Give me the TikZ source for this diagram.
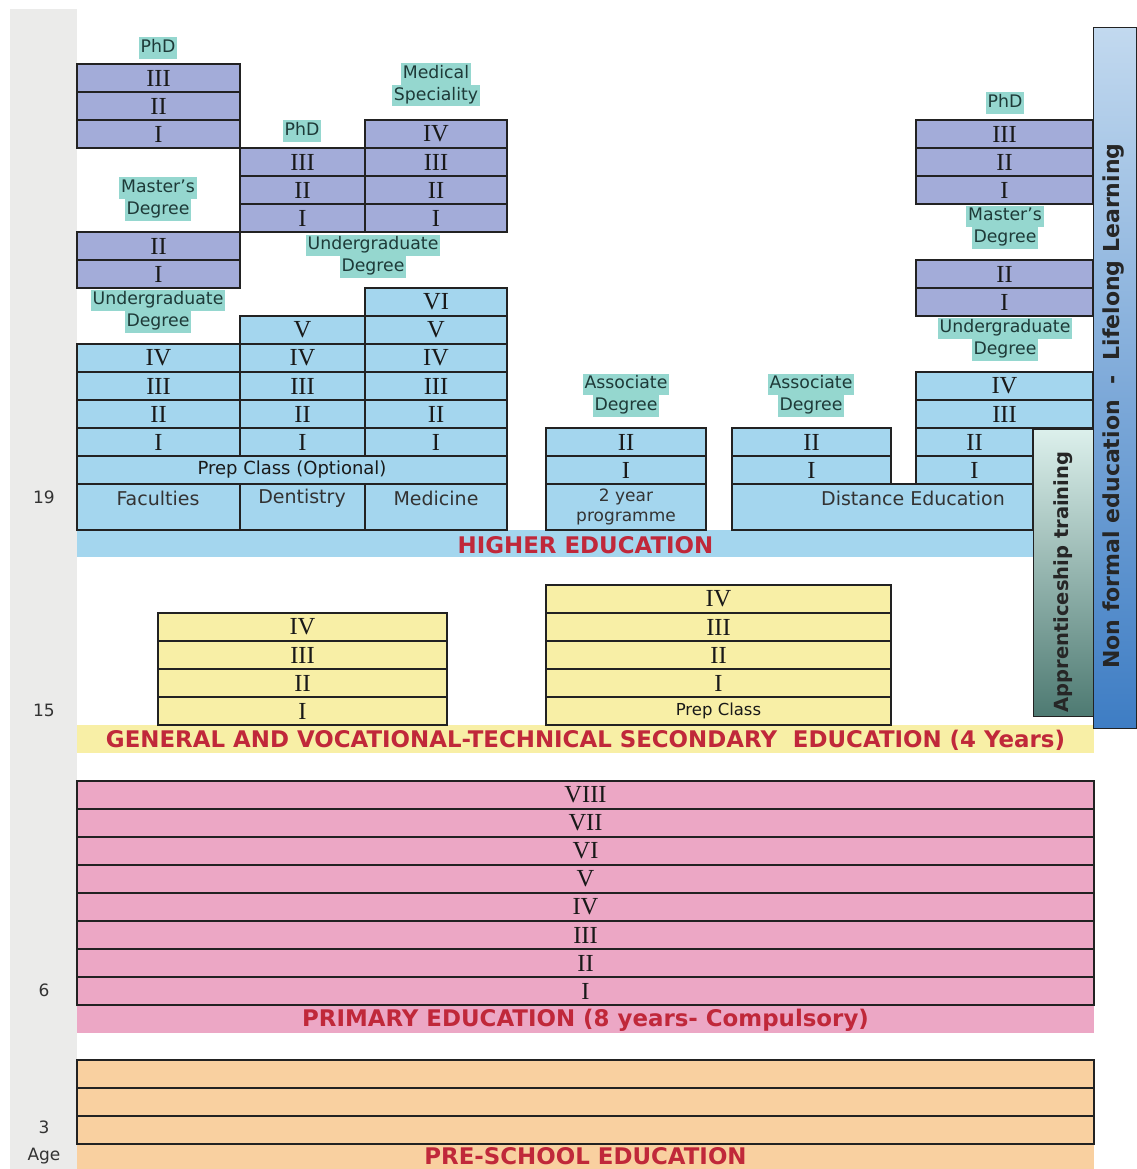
\documentclass[tikz,border=0pt]{standalone}
\usepackage{fontspec}
\setmainfont{Liberation Serif}
\newfontfamily\dvs{DejaVu Sans}
\definecolor{grad}{HTML}{A3ACD9}
\definecolor{ugrad}{HTML}{A4D6EE}
\definecolor{lab}{HTML}{95D7CF}
\definecolor{labt}{HTML}{1E3A38}
\definecolor{sec}{HTML}{F8EFA6}
\definecolor{prim}{HTML}{ECA7C5}
\definecolor{pre}{HTML}{F9D0A0}
\definecolor{redt}{HTML}{C0283A}
\definecolor{agebg}{HTML}{EBEBEA}
\definecolor{linec}{HTML}{222222}
\definecolor{nftop}{HTML}{C2D9EF}
\definecolor{nfbot}{HTML}{3E7DC4}
\definecolor{aptop}{HTML}{DCF0EC}
\definecolor{apbot}{HTML}{4E7A72}
\newcommand\hl[1]{{\setlength\fboxsep{0pt}\colorbox{lab}{\strut\hspace{2pt}#1\hspace{2pt}}}}
\tikzset{
 cell/.style={draw=linec, line width=1.3pt, inner sep=0pt, outer sep=0pt, anchor=north west,
   font=\fontsize{24.5}{24.5}\selectfont, text=black!90},
 band/.style={inner sep=0pt, outer sep=0pt, anchor=north west},
 lbl/.style={inner sep=0pt, align=center, font=\dvs\fontsize{17.3}{21.5}\selectfont, text=labt},
 sanstxt/.style={inner sep=0pt, font=\dvs\fontsize{19}{21}\selectfont, text=black!80},
 smalltxt/.style={inner sep=0pt, align=center, font=\dvs\fontsize{17}{19.5}\selectfont, text=black!80},
 bandtxt/.style={inner sep=0pt, font=\dvs\bfseries\fontsize{22.9}{22.9}\selectfont, text=redt},
 agetxt/.style={inner sep=0pt, font=\dvs\fontsize{17}{17}\selectfont, text=black!80},
 vtxt/.style={inner sep=0pt, rotate=90, font=\dvs\bfseries\fontsize{22}{22}\selectfont, text=black!85},
}
\newcommand\cell[7]{\node[cell, fill=#6, minimum width=#4pt, minimum height=#5pt] (#1) at (#2,#3) {#7};}
\begin{document}
\begin{tikzpicture}[x=1pt,y=-1pt]
\useasboundingbox (0,0) rectangle (1136,1169);
\fill[white] (0,0) rectangle (1136,1169);
% age column
\node[band, fill=agebg, minimum width=67pt, minimum height=1160pt] (agecol) at (10,9) {};
\node[agetxt] (a19) at (44,497) {19};
\node[agetxt] (a15) at (44,710) {15};
\node[agetxt] (a6) at (44,990) {6};
\node[agetxt] (a3) at (44,1127) {3};
\node[agetxt] (aage) at (44,1156) {Age};

% bands
\node[band, fill=ugrad, minimum width=956pt, minimum height=27pt] (heband) at (77,530) {};
\node[band, fill=sec, minimum width=1017pt, minimum height=28pt] (seband) at (77,725) {};
\node[band, fill=prim, minimum width=1017pt, minimum height=28pt] (prband) at (77,1005) {};
\node[band, fill=pre, minimum width=1017pt, minimum height=25pt] (psband) at (77,1144) {};

% ---- faculties column
\cell{fL3}{77}{64}{163}{28}{grad}{III}
\cell{fL2}{77}{92}{163}{28}{grad}{II}
\cell{fL1}{77}{120}{163}{28}{grad}{I}
\cell{mL2}{77}{232}{163}{28}{grad}{II}
\cell{mL1}{77}{260}{163}{28}{grad}{I}
\cell{uL4}{77}{344}{163}{28}{ugrad}{IV}
\cell{uL3}{77}{372}{163}{28}{ugrad}{III}
\cell{uL2}{77}{400}{163}{28}{ugrad}{II}
\cell{uL1}{77}{428}{163}{28}{ugrad}{I}
% ---- dentistry column
\cell{dP3}{240}{148}{125}{28}{grad}{III}
\cell{dP2}{240}{176}{125}{28}{grad}{II}
\cell{dP1}{240}{204}{125}{28}{grad}{I}
\cell{dU5}{240}{316}{125}{28}{ugrad}{V}
\cell{dU4}{240}{344}{125}{28}{ugrad}{IV}
\cell{dU3}{240}{372}{125}{28}{ugrad}{III}
\cell{dU2}{240}{400}{125}{28}{ugrad}{II}
\cell{dU1}{240}{428}{125}{28}{ugrad}{I}
% ---- medicine column
\cell{mS4}{365}{120}{142}{28}{grad}{IV}
\cell{mS3}{365}{148}{142}{28}{grad}{III}
\cell{mS2}{365}{176}{142}{28}{grad}{II}
\cell{mS1}{365}{204}{142}{28}{grad}{I}
\cell{mU6}{365}{288}{142}{28}{ugrad}{VI}
\cell{mU5}{365}{316}{142}{28}{ugrad}{V}
\cell{mU4}{365}{344}{142}{28}{ugrad}{IV}
\cell{mU3}{365}{372}{142}{28}{ugrad}{III}
\cell{mU2}{365}{400}{142}{28}{ugrad}{II}
\cell{mU1}{365}{428}{142}{28}{ugrad}{I}
% prep + base
\cell{prep}{77}{456}{430}{28}{ugrad}{\dvs\fontsize{18}{18}\selectfont Prep Class (Optional)}
\cell{fac}{77}{484}{163}{46}{ugrad}{}
\cell{den}{240}{484}{125}{46}{ugrad}{}
\cell{med}{365}{484}{142}{46}{ugrad}{}
\node[sanstxt] (tfac) at (158,498) {Faculties};
\node[sanstxt] (tden) at (302,498) {Dentistry};
\node[sanstxt] (tmed) at (436,498) {Medicine};
% ---- associate 1
\cell{a1U2}{546}{428}{160}{28}{ugrad}{II}
\cell{a1U1}{546}{456}{160}{28}{ugrad}{I}
\cell{a1B}{546}{484}{160}{46}{ugrad}{}
\node[smalltxt] (t2y) at (626,507) {2 year\\programme};
% ---- associate 2 + distance
\cell{a2U2}{732}{428}{159}{28}{ugrad}{II}
\cell{a2U1}{732}{456}{159}{28}{ugrad}{I}
\cell{dist}{732}{484}{301}{46}{ugrad}{}
\node[sanstxt] (tdist) at (913,498) {Distance Education};
% ---- right column
\cell{rP3}{916}{120}{177}{28}{grad}{III}
\cell{rP2}{916}{148}{177}{28}{grad}{II}
\cell{rP1}{916}{176}{177}{28}{grad}{I}
\cell{rM2}{916}{260}{177}{28}{grad}{II}
\cell{rM1}{916}{288}{177}{28}{grad}{I}
\cell{rU4}{916}{372}{177}{28}{ugrad}{IV}
\cell{rU3}{916}{400}{177}{28}{ugrad}{III}
\cell{rU2}{916}{428}{117}{28}{ugrad}{II}
\cell{rU1}{916}{456}{117}{28}{ugrad}{I}

% ---- secondary
\cell{sL4}{158}{613}{289}{28}{sec}{IV}
\cell{sL3}{158}{641}{289}{28}{sec}{III}
\cell{sL2}{158}{669}{289}{28}{sec}{II}
\cell{sL1}{158}{697}{289}{28}{sec}{I}
\cell{sR4}{546}{585}{345}{28}{sec}{IV}
\cell{sR3}{546}{613}{345}{28}{sec}{III}
\cell{sR2}{546}{641}{345}{28}{sec}{II}
\cell{sR1}{546}{669}{345}{28}{sec}{I}
\cell{sRp}{546}{697}{345}{28}{sec}{\dvs\fontsize{16.5}{16.5}\selectfont Prep Class}

% ---- primary
\foreach \r [count=\k from 0] in {VIII,VII,VI,V,IV,III,II,I} {
  \pgfmathsetmacro\yy{781+28*\k}
  \cell{p\k}{77}{\yy}{1017}{28}{prim}{\r}
}
% ---- pre-school
\cell{ps1}{77}{1060}{1017}{28}{pre}{}
\cell{ps2}{77}{1088}{1017}{28}{pre}{}
\cell{ps3}{77}{1116}{1017}{28}{pre}{}

% band texts
\node[bandtxt] (the) at (585.5,545) {HIGHER EDUCATION};
\node[bandtxt] (tse) at (585.5,740) {GENERAL AND VOCATIONAL-TECHNICAL SECONDARY\ \ EDUCATION (4 Years)};
\node[bandtxt] (tpr) at (585.5,1020) {PRIMARY EDUCATION (8 years- Compulsory)};
\node[bandtxt] (tps) at (585.5,1156.5) {PRE-SCHOOL EDUCATION};

% ---- degree labels
\node[lbl] (lphdL) at (158,48) {\hl{PhD}};
\node[lbl] (lmaL) at (158,199) {\hl{Master’s}\\\hl{Degree}};
\node[lbl] (lugL) at (158,311) {\hl{Undergraduate}\\\hl{Degree}};
\node[lbl] (lphdD) at (302,131) {\hl{PhD}};
\node[lbl] (lmed) at (436,85) {\hl{Medical}\\\hl{Speciality}};
\node[lbl] (lugM) at (373,256) {\hl{Undergraduate}\\\hl{Degree}};
\node[lbl] (lphdR) at (1005,103) {\hl{PhD}};
\node[lbl] (lmaR) at (1005,227) {\hl{Master’s}\\\hl{Degree}};
\node[lbl] (lugR) at (1005,339) {\hl{Undergraduate}\\\hl{Degree}};
\node[lbl] (las1) at (626,395) {\hl{Associate}\\\hl{Degree}};
\node[lbl] (las2) at (811,395) {\hl{Associate}\\\hl{Degree}};

% ---- side bars
\node[band, draw=linec, line width=1pt, top color=aptop, bottom color=apbot,
  minimum width=60pt, minimum height=287pt] (appr) at (1033,429) {};
\node[vtxt, font=\dvs\bfseries\fontsize{19.5}{19.5}\selectfont] (tappr) at (1063,582) {Apprenticeship training};
\node[band, draw=linec, line width=1pt, top color=nftop, bottom color=nfbot,
  minimum width=43pt, minimum height=700pt] (nonf) at (1093,28) {};
\node[vtxt] (tnonf) at (1113,406) {Non formal education\ \ -\ \ Lifelong Learning};
\end{tikzpicture}
\end{document}
